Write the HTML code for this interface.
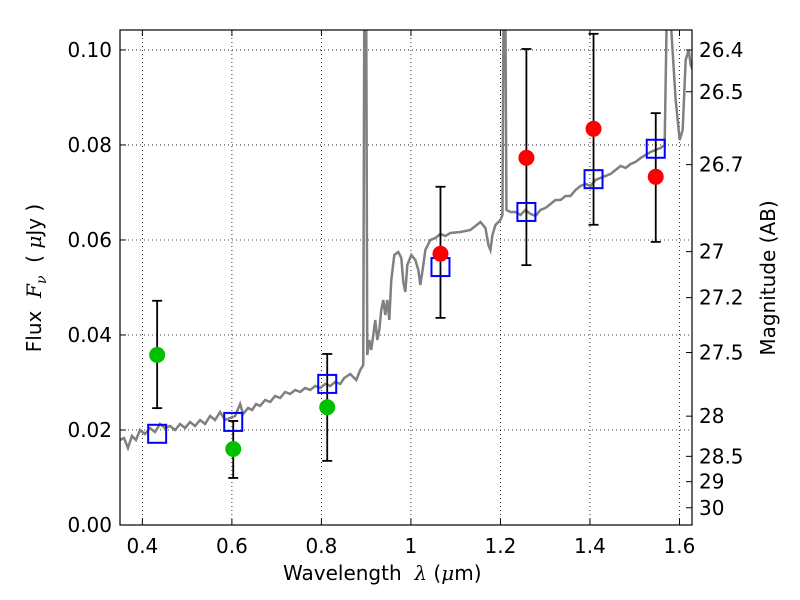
<!DOCTYPE html>
<html><head><meta charset="utf-8"><style>
body{margin:0;background:#fff}
svg{display:block;font-family:"DejaVu Sans","Liberation Sans",sans-serif}
</style></head><body>
<svg id="chart" width="800" height="600" viewBox="0 0 800 600"></svg>
<script>
// ---- data ----
const xTicks = [0.4, 0.6, 0.8, 1.0, 1.2, 1.4, 1.6];
const xTickLabels = ["0.4","0.6","0.8","1","1.2","1.4","1.6"];
const yTicks = [0.00, 0.02, 0.04, 0.06, 0.08, 0.10];
const yTickLabels = ["0.00","0.02","0.04","0.06","0.08","0.10"];
const magTicks = [26.4, 26.5, 26.7, 27, 27.2, 27.5, 28, 28.5, 29, 30];
const magTickLabels = ["26.4","26.5","26.7","27","27.2","27.5","28","28.5","29","30"];
const greenLam = [0.433, 0.603, 0.813];
const greenFlux = [0.0358, 0.0160, 0.0248];
const greenLo = [0.0246, 0.0099, 0.0135];
const greenHi = [0.0472, 0.0219, 0.0360];
const redLam = [1.066, 1.258, 1.408, 1.547];
const redFlux = [0.0571, 0.0773, 0.0834, 0.0733];
const redLo = [0.0436, 0.0547, 0.0632, 0.0596];
const redHi = [0.0712, 0.1002, 0.1034, 0.0867];
const modelLam = [0.433, 0.603, 0.813, 1.066, 1.258, 1.408, 1.547];
const modelFlux = [0.0192, 0.0217, 0.0297, 0.0543, 0.0659, 0.0728, 0.0792];
// spectrum traced: [x_px-ish wavelength, flux]
const specPx = [[120,440],[124,438],[128,448],[132,436],[136,440],[140,430],[145,434],[150,428],[155,432],[160,424],[165,428],[170,426],[175,430],[180,424],[185,428],[190,422],[195,426],[200,420],[205,424],[210,416],[215,420],[220,412],[225,420],[230,418],[235,416],[240,404],[243,414],[248,408],[252,410],[256,404],[260,406],[265,400],[270,402],[275,396],[280,398],[285,392],[290,394],[295,390],[300,392],[305,388],[310,390],[315,386],[320,388],[325,384],[330,386],[335,382],[340,384],[344,378],[350,374],[356,380],[360,370],[363,365],[364,20],[366,20],[367,355],[369,340],[371,350],[373,335],[375,320],[377,340],[379,330],[381,310],[383,300],[385,315],[387,300],[389,320],[391,280],[394,255],[398,252],[401,258],[403,282],[405,292],[407,265],[411,255],[415,260],[418,270],[420,285],[423,265],[425,250],[430,240],[435,238],[440,234],[445,236],[450,233],[460,232],[470,230],[475,226],[480,222],[485,228],[488,245],[490,250],[492,235],[495,225],[500,220],[502,215],[503,20],[505,20],[506,210],[510,212],[515,212],[520,215],[525,210],[530,214],[535,216],[540,210],[545,208],[550,204],[555,200],[560,200],[565,196],[570,196],[575,190],[580,186],[585,184],[590,186],[595,180],[600,178],[605,176],[610,174],[615,170],[620,166],[625,168],[630,164],[635,162],[640,158],[645,155],[650,152],[655,150],[660,148],[664,145],[666,20],[670,20],[675,100],[679,140],[682,130],[685,60],[688,50],[690,65],[692,70]];
const specLam = specPx.map(p => 0.4 + (p[0]-142.4)/447);
const specFlux = specPx.map(p => (525-p[1])/4750);

// ---- axes ----
const L=120, R=692, T=30, B=525;
const xmin=0.35, xmax=1.628, ymin=0, ymax=0.1042;
const X = v => L + (v-xmin)/(xmax-xmin)*(R-L);
const Y = v => B - (v-ymin)/(ymax-ymin)*(B-T);
const magY = m => Y(Math.pow(10,(23.9-m)/2.5));
const svg = document.getElementById('chart');
const NS='http://www.w3.org/2000/svg';
function mk(tag, attrs, parent){const e=document.createElementNS(NS,tag);for(const k in attrs)e.setAttribute(k,attrs[k]);(parent||svg).appendChild(e);return e;}

const clip = mk('clipPath',{id:'pc'}); mk('rect',{x:L,y:T,width:R-L,height:B-T},clip);

// grid
const grid = mk('g',{});  
xTicks.forEach(v=>{mk('line',{x1:X(v),x2:X(v),y1:T,y2:B,stroke:'#000','stroke-width':0.8,'stroke-dasharray':'1,3'},grid);});
yTicks.forEach(v=>{mk('line',{x1:L,x2:R,y1:Y(v),y2:Y(v),stroke:'#000','stroke-width':0.8,'stroke-dasharray':'1,3'},grid);});

// spectrum
const sp = mk('polyline',{points:specLam.map((l,i)=>X(l)+','+Y(specFlux[i])).join(' '),fill:'none',stroke:'#808080','stroke-width':2.5,'clip-path':'url(#pc)'});
 

// error bars
function errbars(lams,lo,hi,name){
  const g=mk('g',{});
   
  lams.forEach((l,i)=>{
    const x=X(l);
    mk('line',{x1:x,x2:x,y1:Y(lo[i]),y2:Y(hi[i]),stroke:'#000','stroke-width':1.8},g);
    mk('line',{x1:x-5,x2:x+5,y1:Y(lo[i]),y2:Y(lo[i]),stroke:'#000','stroke-width':1.8},g);
    mk('line',{x1:x-5,x2:x+5,y1:Y(hi[i]),y2:Y(hi[i]),stroke:'#000','stroke-width':1.8},g);
  });
}
errbars(greenLam,greenLo,greenHi,'green-error-bars');
errbars(redLam,redLo,redHi,'red-error-bars');

// model boxes
modelLam.forEach((l,i)=>{
  const r=mk('rect',{x:X(l)-9,y:Y(modelFlux[i])-9,width:18,height:18,fill:'none',stroke:'#0000ff','stroke-width':2});
   
});
greenLam.forEach((l,i)=>{
  const c=mk('circle',{cx:X(l),cy:Y(greenFlux[i]),r:8,fill:'#00c000'});
   
});
redLam.forEach((l,i)=>{
  const c=mk('circle',{cx:X(l),cy:Y(redFlux[i]),r:8,fill:'#ff0000'});
   
});

// frame
const fr=mk('rect',{x:L,y:T,width:R-L,height:B-T,fill:'none',stroke:'#000','stroke-width':1.2});
 

// ticks + labels
const xg=mk('g',{});  
xTicks.forEach((v,i)=>{
  mk('line',{x1:X(v),x2:X(v),y1:B,y2:B-6,stroke:'#000'},xg);
  mk('line',{x1:X(v),x2:X(v),y1:T,y2:T+6,stroke:'#000'},xg);
  const t=mk('text',{x:X(v),y:B+28,'text-anchor':'middle','font-size':20},xg); t.textContent=xTickLabels[i];
});
const yg=mk('g',{});  
yTicks.forEach((v,i)=>{
  mk('line',{x1:L,x2:L+6,y1:Y(v),y2:Y(v),stroke:'#000'},yg);
  const t=mk('text',{x:L-8,y:Y(v)+7,'text-anchor':'end','font-size':20},yg); t.textContent=yTickLabels[i];
});
const mg=mk('g',{});  
magTicks.forEach((m,i)=>{
  const y=magY(m);
  mk('line',{x1:R,x2:R-6,y1:y,y2:y,stroke:'#000'},mg);
  const t=mk('text',{x:R+7,y:y+7,'font-size':20},mg); t.textContent=magTickLabels[i];
});
</script>
<svg width="0" height="0"></svg>
<div style="position:absolute;left:0;top:0;width:800px;height:600px;pointer-events:none;font-family:'DejaVu Sans','Liberation Sans',sans-serif;font-size:20px">
  <div style="position:absolute;left:283px;top:561px;white-space:nowrap">Wavelength&nbsp; <i style="font-family:'DejaVu Serif',serif">λ</i> (<i style="font-family:'DejaVu Serif',serif">μ</i>m)</div>
  <div style="position:absolute;left:36px;top:278px;white-space:nowrap;transform:translate(-50%,-50%) rotate(-90deg)">Flux&nbsp; <i style="font-family:'DejaVu Serif',serif">F<sub style="font-size:14px">ν</sub></i>&nbsp; ( <i style="font-family:'DejaVu Serif',serif">μ</i>Jy )</div>
  <div style="position:absolute;left:768px;top:278px;white-space:nowrap;transform:translate(-50%,-50%) rotate(-90deg)">Magnitude (AB)</div>
</div>
</body></html>
